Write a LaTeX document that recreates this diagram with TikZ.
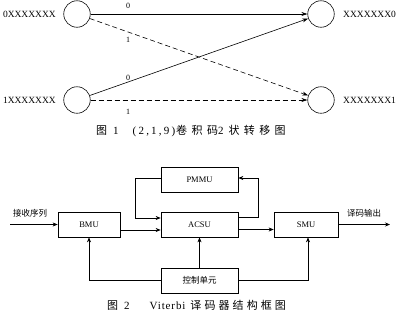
\documentclass[tikz,border=0pt]{standalone}
\usepackage{fontspec}
\setmainfont{Liberation Serif}
\newfontfamily\cjk{Noto Sans CJK SC}
\newfontfamily\cjkcapa[LetterSpace=40]{Noto Sans CJK SC}
\newfontfamily\cjkcapb[LetterSpace=28]{Noto Sans CJK SC}
\newfontfamily\latspa[LetterSpace=20]{Liberation Serif}
\newfontfamily\latspb[LetterSpace=8]{Liberation Serif}
\usetikzlibrary{arrows.meta,calc}
\begin{document}
\begin{tikzpicture}[x=1pt,y=-1pt,
  state/.style={draw,circle,minimum size=26.5pt,inner sep=0pt,line width=0.6pt},
  slabel/.style={font=\fontsize{9.5}{11}\selectfont,inner sep=0pt},
  elabel/.style={font=\fontsize{8}{9}\selectfont,inner sep=0pt},
  tarr/.style={-{Stealth[length=6pt,width=4pt]},line width=0.6pt},
  darr/.style={tarr,dash pattern=on 5pt off 3pt},
  block/.style={draw,line width=0.7pt,minimum height=25pt,inner sep=0pt,font=\fontsize{8.5}{10}\selectfont},
  barr/.style={-{Stealth[length=5pt,width=4pt]},line width=0.6pt},
  captext/.style={inner sep=0pt,font=\fontsize{11}{13}\selectfont}
]
\useasboundingbox (0,0) rectangle (400,322);
% Figure 1
\node[state] (L0) at (77,14) {};
\node[state] (L1) at (77,100) {};
\node[state] (R0) at (321,14) {};
\node[state] (R1) at (321,100) {};
\node[slabel,anchor=east] (tL0) at (56,14) {0XXXXXXX};
\node[slabel,anchor=east] (tL1) at (56,100) {1XXXXXXX};
\node[slabel,anchor=west] (tR0) at (343,14) {XXXXXXX0};
\node[slabel,anchor=west] (tR1) at (343,100) {XXXXXXX1};
\draw[tarr] (L0) -- (R0);
\draw[tarr] (L1) -- (R0);
\draw[darr] (L0) -- (R1);
\draw[darr] (L1) -- (R1);
\node[elabel] (e1) at (128,6) {0};
\node[elabel] (e2) at (128,40) {1};
\node[elabel] (e3) at (128,78) {0};
\node[elabel] (e4) at (128,112) {1};
\node[captext,anchor=west] (cap1) at (96,131) {{\cjk 图}\hspace{6pt}1\hspace{14pt}{\latspa (2,1,9)}\hspace{1pt}{\cjkcapa 卷积码}2\hspace{5pt}{\cjkcapa 状转移图}};
% Figure 2
\node[block,minimum width=62pt] (BMU) at (89,224.5) {BMU};
\node[block,minimum width=77pt] (PMMU) at (199.5,179.5) {PMMU};
\node[block,minimum width=77pt] (ACSU) at (199.5,224.5) {ACSU};
\node[block,minimum width=77pt] (CTRL) at (199.5,280.5) {{\cjk 控制单元}};
\node[block,minimum width=64pt] (SMU) at (306,224.5) {SMU};
\coordinate (inp) at (10,224.5);
\coordinate (outp) at (390,224.5);
\node[inner sep=0pt,font=\cjk\fontsize{8.5}{10}\selectfont] (tin) at (30,213) {接收序列};
\node[inner sep=0pt,font=\cjk\fontsize{8.5}{10}\selectfont] (tout) at (364,213) {译码输出};
\draw[barr] (inp) -- (BMU.west);
\draw[barr] ([yshift=-5.5pt]BMU.east) -- ([yshift=-5.5pt]ACSU.west);
\draw[barr] ([yshift=1.5pt]PMMU.west) -- ++(-25,0) |- ([yshift=6.5pt]ACSU.west);
\draw[barr] ([yshift=7pt]ACSU.east) -- ++(20,0) |- ([yshift=1.5pt]PMMU.east);
\draw[barr] ([yshift=-5pt]ACSU.east) -- ([yshift=-5pt]SMU.west);
\draw[barr] (CTRL.west) -| (BMU.south);
\draw[barr] (CTRL.north) -- (ACSU.south);
\draw[barr] (CTRL.east) -| ([xshift=2pt]SMU.south);
\draw[barr] (SMU.east) -- (outp);
\node[captext,anchor=west] (cap2) at (107,305) {{\cjk 图}\hspace{6pt}2\hspace{20pt}{\latspb Viterbi}\hspace{5pt}{\cjkcapb 译码器结构框图}};
\end{tikzpicture}
\end{document}
